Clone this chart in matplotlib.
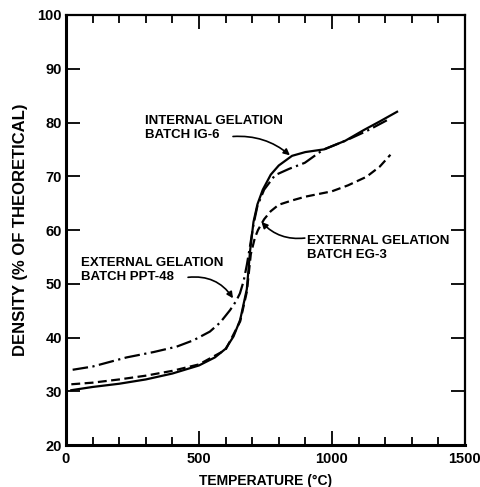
import numpy as np
import matplotlib
matplotlib.use('Agg')
import matplotlib.pyplot as plt
from matplotlib.ticker import MultipleLocator

plt.rcParams['font.family'] = ['Liberation Sans', 'DejaVu Sans']

# Dados
temp_ig6 = [20, 100, 200, 300, 400, 500, 560, 600, 630, 655, 680, 692, 705, 720, 740,
            770, 800, 850, 900, 970, 1050, 1120, 1180, 1245]
dens_ig6 = [30.2, 30.8, 31.4, 32.2, 33.3, 34.8, 36.3, 37.9, 40.2, 43.3, 49.0, 56.0, 61.5,
            64.8, 67.5, 70.3, 72.0, 73.8, 74.5, 75.0, 76.6, 78.6, 80.2, 82.0]

temp_eg3 = [20, 100, 200, 300, 400, 500, 600, 655, 680, 695, 710, 722, 745, 770, 800,
            850, 900, 1000, 1060, 1130, 1180, 1220]
dens_eg3 = [31.3, 31.6, 32.2, 32.9, 33.8, 35.0, 37.7, 43.0, 48.5, 55.5, 58.5, 60.0, 62.0,
            63.5, 64.7, 65.5, 66.2, 67.2, 68.3, 69.9, 71.8, 74.0]

temp_ppt48 = [25, 100, 228, 330, 416, 480, 541, 580, 617, 640, 654, 668, 680, 692, 705,
              720, 745, 786, 840, 898, 966, 1055, 1130, 1210]
dens_ppt48 = [34.0, 34.6, 36.3, 37.3, 38.3, 39.5, 41.1, 42.8, 45.1, 46.8, 48.2, 50.5, 53.5,
              57.0, 61.0, 64.5, 67.5, 70.2, 71.4, 72.5, 74.9, 76.7, 78.4, 80.5]

fig = plt.figure(figsize=(4.8, 4.87), dpi=100)
ax = fig.add_axes([0.1375, 0.0862, 0.831, 0.883])

lw = 1.6
ax.plot(temp_ig6, dens_ig6, color='black', lw=lw, ls='-')
ax.plot(temp_eg3, dens_eg3, color='black', lw=lw, ls=(0, (4, 2)))
ax.plot(temp_ppt48, dens_ppt48, color='black', lw=lw, ls=(0, (7, 2, 1, 2)))

ax.set_xlim(0, 1500)
ax.set_ylim(20, 100)

# Ticks
ax.xaxis.set_major_locator(MultipleLocator(500))
ax.xaxis.set_minor_locator(MultipleLocator(100))
ax.yaxis.set_major_locator(MultipleLocator(10))
ax.tick_params(axis='x', which='major', direction='in', length=10, width=1.3,
               top=True, bottom=True, labelsize=10.5, pad=5)
ax.tick_params(axis='x', which='minor', direction='in', length=6, width=1.3,
               top=True, bottom=True)
ax.tick_params(axis='y', which='major', direction='in', length=10, width=1.3,
               left=True, right=True, labelsize=10.5, pad=3)
for lab in ax.get_xticklabels() + ax.get_yticklabels():
    lab.set_fontweight('bold')

for s in ax.spines.values():
    s.set_linewidth(1.6)
ax.spines['left'].set_linewidth(2.2)
ax.spines['bottom'].set_linewidth(2.2)

ax.set_xlabel('TEMPERATURE (°C)', fontsize=10, fontweight='bold', labelpad=6)
ax.set_ylabel('DENSITY (% OF THEORETICAL)', fontsize=12, fontweight='bold', labelpad=7)

# Anotações: texto e setas separados
txt = dict(fontsize=9.5, fontweight='bold', ha='left', va='center', linespacing=1.2)
arrow = dict(arrowstyle='-|>', color='black', lw=1.2, mutation_scale=9, shrinkA=0, shrinkB=0)

ax.text(298, 79.0, 'INTERNAL GELATION\nBATCH IG-6', **txt)
ax.annotate('', xy=(842, 73.9), xytext=(628, 77.4),
            arrowprops=dict(**arrow, connectionstyle='arc3,rad=-0.2'))

ax.text(905, 56.7, 'EXTERNAL GELATION\nBATCH EG-3', **txt)
ax.annotate('', xy=(735, 61.5), xytext=(898, 58.5),
            arrowprops=dict(**arrow, connectionstyle='arc3,rad=-0.25'))

ax.text(58, 52.6, 'EXTERNAL GELATION\nBATCH PPT-48', **txt)
ax.annotate('', xy=(628, 47.3), xytext=(459, 51.2),
            arrowprops=dict(**arrow, connectionstyle='arc3,rad=-0.3'))

plt.savefig('out.png', dpi=100)
